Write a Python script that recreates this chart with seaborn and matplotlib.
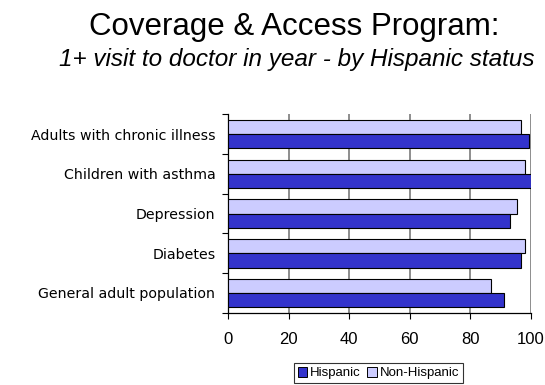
import matplotlib
matplotlib.use("Agg")
import matplotlib.pyplot as plt
import seaborn as sns
import pandas as pd
from matplotlib.patches import Patch

categories = ["Adults with chronic illness", "Children with asthma", "Depression",
              "Diabetes", "General adult population"]
hispanic = [99.2, 100.0, 93.1, 96.6, 91.0]
non_hispanic = [96.6, 98.1, 95.3, 98.1, 86.8]
groups = ["Hispanic", "Non-Hispanic"]
colors = {"Hispanic": "#3333CC", "Non-Hispanic": "#CCCCFF"}
xticks = [0, 20, 40, 60, 80, 100]

df = pd.DataFrame({
    "category": categories * 2,
    "value": hispanic + non_hispanic,
    "group": ["Hispanic"] * len(categories) + ["Non-Hispanic"] * len(categories),
})

sns.set_style("white")
plt.rcParams["font.family"] = ["Liberation Sans", "DejaVu Sans"]
plt.rcParams["text.color"] = "black"
plt.rcParams["xtick.color"] = "black"
plt.rcParams["ytick.color"] = "black"
plt.rcParams["axes.labelcolor"] = "black"

fig = plt.figure(figsize=(5.45, 3.85), dpi=100)
ax = fig.add_axes([0.4183, 0.1875, 0.556, 0.5156])

sns.barplot(data=df, y="category", x="value", hue="group", order=categories,
            hue_order=["Non-Hispanic", "Hispanic"], palette=colors, saturation=1,
            orient="h", width=0.72, edgecolor="black", linewidth=0.8,
            legend=False, ax=ax, zorder=3)

ax.set_xlim(0, 100)
ax.set_ylim(len(categories) - 0.5, -0.5)
ax.set_xticks(xticks)
ax.set_xticklabels([str(t) for t in xticks], fontsize=12)
ax.xaxis.grid(True, color="#7a7a7a", linewidth=1.2, zorder=0)
ax.set_axisbelow(True)
ax.tick_params(axis="x", direction="out", length=4, width=0.8, color="black", pad=10, bottom=True)
ax.set_yticks(range(len(categories)))
ax.set_yticklabels(categories, fontsize=10.2, family=["DejaVu Sans"])
ax.set_yticks([i - 0.5 for i in range(len(categories) + 1)], minor=True)
ax.tick_params(axis="y", which="major", length=0, pad=9)
ax.tick_params(axis="y", which="minor", length=4, width=0.8, color="black", left=True)
for s in ["top", "right"]:
    ax.spines[s].set_visible(False)
for s in ["left", "bottom"]:
    ax.spines[s].set_color("black")
    ax.spines[s].set_linewidth(0.9)
ax.set_xlabel("")
ax.set_ylabel("")

fig.text(0.540, 0.930, "Coverage & Access Program:", ha="center", va="center", fontsize=22.5)
fig.text(0.544, 0.845, "1+ visit to doctor in year - by Hispanic status", ha="center",
         va="center", fontsize=17.5, style="italic")

handles = [Patch(facecolor=colors[g], edgecolor="black", linewidth=0.7) for g in groups]
leg = fig.legend(handles, groups, loc="center", bbox_to_anchor=(0.6945, 0.031),
                 fontsize=9.5, frameon=True, fancybox=False, edgecolor="black",
                 ncol=2, handlelength=0.75, handleheight=0.75, handletextpad=0.2,
                 columnspacing=0.5, borderpad=0.3, borderaxespad=0)
leg.get_frame().set_linewidth(0.8)

fig.savefig("out.png", dpi=100)
